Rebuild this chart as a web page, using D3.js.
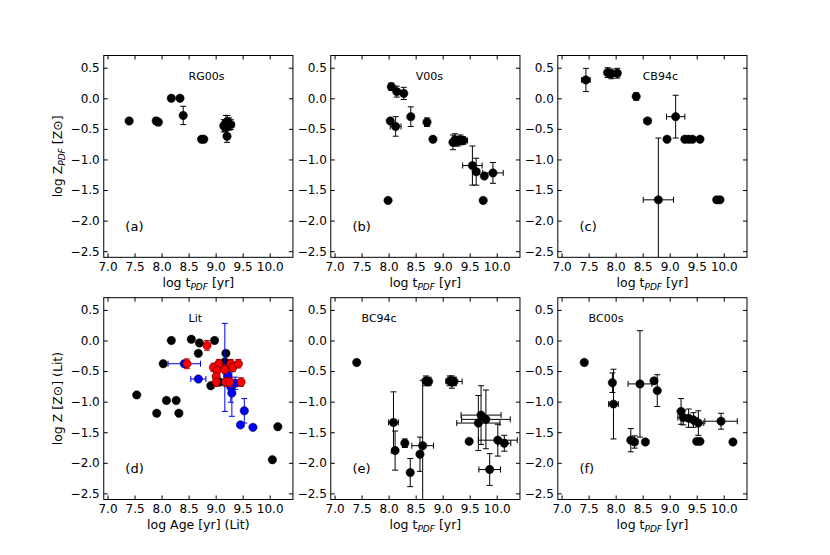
<!DOCTYPE html>
<html>
<head>
<meta charset="utf-8">
<script src="https://cdn.jsdelivr.net/npm/d3@7"></script>
<style>
  html, body { margin: 0; padding: 0; background: #fff; }
  svg { display: block; }
  text { font-family: "DejaVu Sans", sans-serif; }
</style>
</head>
<body>
<svg id="chart" width="830" height="555"></svg>
<script>
// ---------------- data ----------------
const xTickValues = [7.0, 7.5, 8.0, 8.5, 9.0, 9.5, 10.0];
const xTickLabels = ["7.0", "7.5", "8.0", "8.5", "9.0", "9.5", "10.0"];
const yTickValues = [0.5, 0.0, -0.5, -1.0, -1.5, -2.0, -2.5];
const yTickLabels = ["0.5", "0.0", "\u22120.5", "\u22121.0", "\u22121.5", "\u22122.0", "\u22122.5"];

const panelNames = ["RG00s", "V00s", "CB94c", "Lit", "BC94c", "BC00s"];
const panelLetters = ["(a)", "(b)", "(c)", "(d)", "(e)", "(f)"];

// (a) RG00s
const rgLogT  = [7.40, 7.90, 7.94, 8.18, 8.34, 8.40, 8.74, 8.78, 9.15, 9.19, 9.22, 9.25, 9.28, 9.21, 9.18];
const rgLogZ  = [-0.37, -0.37, -0.39, 0.00, 0.00, -0.28, -0.67, -0.67, -0.45, -0.40, -0.38, -0.42, -0.43, -0.62, -0.48];
const rgErrZ  = [0, 0.05, 0.05, 0, 0, 0.15, 0, 0, 0.10, 0.12, 0.10, 0.10, 0.08, 0.10, 0.06];
const rgErrT  = [0, 0, 0, 0, 0, 0, 0, 0, 0.05, 0, 0.05, 0, 0.06, 0, 0];

// (b) V00s
const vLogT = [8.05, 8.15, 8.28, 8.03, 8.13, 8.41, 8.71, 8.82, 7.99, 9.19, 9.23, 9.28, 9.33, 9.38, 9.55, 9.62, 9.77, 9.93, 9.75];
const vLogZ = [0.19, 0.11, 0.08, -0.37, -0.46, -0.30, -0.39, -0.67, -1.67, -0.72, -0.68, -0.70, -0.68, -0.69, -1.10, -1.20, -1.27, -1.22, -1.67];
const vErrZ = [0.06, 0.09, 0.10, 0, 0.16, 0.16, 0.07, 0, 0, 0.12, 0.10, 0.08, 0.08, 0.06, 0.32, 0.22, 0, 0.17, 0];
const vErrT = [0.04, 0.04, 0.04, 0, 0.10, 0, 0, 0, 0, 0.05, 0.06, 0.05, 0.08, 0.08, 0.18, 0.06, 0, 0.19, 0];

// (c) CB94c
const cbLogT = [7.45, 7.85, 7.92, 8.03, 8.38, 8.59, 8.95, 9.11, 8.79, 9.28, 9.35, 9.42, 9.56, 9.87, 9.93];
const cbLogZ = [0.30, 0.42, 0.40, 0.41, 0.03, -0.37, -0.67, -0.30, -1.66, -0.67, -0.67, -0.67, -0.67, -1.66, -1.66];
const cbErrZ = [0.19, 0.08, 0.08, 0.08, 0.06, 0, 0, 0.35, 1.01, 0, 0, 0, 0, 0.03, 0];
const cbErrT = [0.08, 0.04, 0, 0.05, 0, 0.06, 0, 0.17, 0.28, 0, 0, 0, 0.04, 0.05, 0];

// (d) Lit: black, blue, red groups
const litBlackAge = [7.54, 7.91, 8.09, 8.27, 8.32, 8.03, 8.18, 8.55, 8.70, 8.68, 8.98, 8.91, 9.19, 9.17, 9.08, 10.15, 10.05];
const litBlackZ   = [-0.89, -1.19, -0.98, -0.98, -1.19, -0.38, 0.00, 0.02, -0.04, -0.21, 0.00, -0.74, -0.21, -0.35, -0.68, -1.41, -1.95];
const litBlueAge  = [8.42, 8.68, 9.17, 9.22, 9.28, 9.30, 9.36, 9.53, 9.46, 9.69];
const litBlueZ    = [-0.38, -0.63, -0.44, -0.58, -0.76, -0.86, -0.70, -1.15, -1.38, -1.42];
const litBlueErrZ = [0, 0, 0.72, 0.10, 0.25, 0.38, 0.10, 0.20, 0, 0];
const litBlueErrT = [0.30, 0.14, 0, 0.05, 0, 0, 0.06, 0, 0, 0];
const litRedAge   = [8.84, 8.47, 8.96, 9.06, 9.03, 9.01, 9.01, 9.17, 9.19, 9.28, 9.32, 9.26, 9.42, 9.47];
const litRedZ     = [-0.08, -0.38, -0.44, -0.38, -0.49, -0.59, -0.68, -0.47, -0.68, -0.38, -0.44, -0.68, -0.38, -0.68];
const litRedErrZ  = [0.08, 0.08, 0.07, 0.07, 0.07, 0.07, 0.07, 0.07, 0.07, 0.07, 0.07, 0.07, 0.07, 0.07];

// (e) BC94c
const bc94LogT = [7.41, 8.09, 8.12, 8.30, 8.40, 8.58, 8.63, 8.69, 8.74, 9.13, 9.17, 9.21, 9.49, 9.66, 9.71, 9.80, 10.02, 10.14, 9.87];
const bc94LogZ = [-0.36, -1.34, -1.80, -1.68, -2.16, -1.86, -1.72, -0.66, -0.67, -0.66, -0.68, -0.67, -1.65, -1.35, -1.22, -1.29, -1.63, -1.68, -2.11];
const bc94ErrZ = [0, 0.50, 0.32, 0.07, 0.23, 0.28, 1.07, 0.08, 0.07, 0.08, 0.10, 0.07, 0, 0.45, 0.48, 0.48, 0.26, 0.13, 0.26];
const bc94ErrT = [0, 0.09, 0.04, 0, 0, 0, 0.20, 0.04, 0, 0, 0, 0.15, 0, 0.40, 0.37, 0.45, 0.36, 0.12, 0.20];

// (f) BC00s
const bc00LogT = [7.42, 7.94, 7.96, 8.45, 8.28, 8.35, 8.55, 8.71, 8.77, 9.21, 9.25, 9.35, 9.44, 9.53, 9.50, 9.56, 9.95, 10.17];
const bc00LogZ = [-0.36, -0.69, -1.04, -0.71, -1.63, -1.66, -1.66, -0.66, -0.82, -1.16, -1.26, -1.27, -1.30, -1.35, -1.65, -1.65, -1.32, -1.66];
const bc00ErrZ = [0, 0.16, 0.57, 0.87, 0.19, 0.10, 0, 0, 0.26, 0.21, 0.12, 0.15, 0.12, 0.20, 0.04, 0, 0.13, 0];
const bc00ErrT = [0, 0, 0.09, 0.22, 0, 0.05, 0, 0, 0, 0, 0.10, 0.10, 0.08, 0.10, 0, 0, 0.30, 0];

// ---------------- layout ----------------
const W = 830, H = 555;
const figL = 0.125 * W, figR = 0.9 * W, figT = 0.1 * H, figB = 0.9 * H;
const pw = (figR - figL) / (3 + 2 * 0.2);
const ph = (figB - figT) / (2 + 0.2);
const xDomain = [6.93, 10.43];
const yDomain = [-2.6, 0.7];

function group(x, y, ex, ey, color) {
  return x.map((v, i) => ({x: v, y: y[i], ex: ex ? ex[i] : 0, ey: ey ? ey[i] : 0, color}));
}

const panels = [
  {sets: [group(rgLogT, rgLogZ, rgErrT, rgErrZ, "black")], xl: "t", yl: "pdf"},
  {sets: [group(vLogT, vLogZ, vErrT, vErrZ, "black")], xl: "t"},
  {sets: [group(cbLogT, cbLogZ, cbErrT, cbErrZ, "black")], xl: "t"},
  {sets: [group(litBlackAge, litBlackZ, null, null, "black"),
          group(litBlueAge, litBlueZ, litBlueErrT, litBlueErrZ, "#0000ff"),
          group(litRedAge, litRedZ, null, litRedErrZ, "#ff0000")], xl: "lit", yl: "lit"},
  {sets: [group(bc94LogT, bc94LogZ, bc94ErrT, bc94ErrZ, "black")], xl: "t"},
  {sets: [group(bc00LogT, bc00LogZ, bc00ErrT, bc00ErrZ, "black")], xl: "t"},
];

const svg = d3.select("#chart");
svg.append("rect").attr("width", W).attr("height", H).attr("fill", "#fff");
const defs = svg.append("defs");

panels.forEach((p, idx) => {
  const col = idx % 3, row = Math.floor(idx / 3);
  const left = figL + col * pw * 1.2;
  const top = figT + row * ph * 1.2;
  const x = d3.scaleLinear().domain(xDomain).range([0, pw]);
  const y = d3.scaleLinear().domain(yDomain).range([ph, 0]);
  const g = svg.append("g").attr("transform", `translate(${left},${top})`);

  defs.append("clipPath").attr("id", "clip" + idx)
    .append("rect").attr("width", pw).attr("height", ph);

  // axes with inward ticks
  const fmtX = d => xTickLabels[xTickValues.indexOf(d)];
  const fmtY = d => yTickLabels[yTickValues.indexOf(d)];
  const ax = [
    g.append("g").attr("transform", `translate(0,${ph})`)
      .call(d3.axisBottom(x).tickValues(xTickValues).tickFormat(fmtX).tickSizeInner(-4).tickSizeOuter(0).tickPadding(5)),
    g.append("g")
      .call(d3.axisTop(x).tickValues(xTickValues).tickFormat("").tickSizeInner(-4).tickSizeOuter(0)),
    g.append("g")
      .call(d3.axisLeft(y).tickValues(yTickValues).tickFormat(fmtY).tickSizeInner(-4).tickSizeOuter(0).tickPadding(4)),
    g.append("g").attr("transform", `translate(${pw},0)`)
      .call(d3.axisRight(y).tickValues(yTickValues).tickFormat("").tickSizeInner(-4).tickSizeOuter(0)),
  ];
  ax.forEach(a => {
    a.select(".domain").remove();
    a.selectAll("text").attr("font-size", 12).attr("fill", "#000").attr("font-family", "DejaVu Sans, sans-serif");
    a.selectAll("line").attr("stroke", "#000");
  });

  const plot = g.append("g").attr("clip-path", `url(#clip${idx})`);

  p.sets.forEach(set => {
    const eg = plot.append("g").attr("stroke", set.length ? set[0].color : "#000").attr("stroke-width", 1).attr("fill", "none");
    const cap = 3;
    set.filter(d => d.ey > 0).forEach(d => {
      const y1 = y(d.y + d.ey), y2 = y(d.y - d.ey), cx = x(d.x);
      eg.append("line").attr("x1", cx).attr("x2", cx).attr("y1", y1).attr("y2", y2);
      eg.append("line").attr("x1", cx - cap).attr("x2", cx + cap).attr("y1", y1).attr("y2", y1);
      eg.append("line").attr("x1", cx - cap).attr("x2", cx + cap).attr("y1", y2).attr("y2", y2);
    });
    set.filter(d => d.ex > 0).forEach(d => {
      const x1 = x(d.x - d.ex), x2 = x(d.x + d.ex), cy = y(d.y);
      eg.append("line").attr("x1", x1).attr("x2", x2).attr("y1", cy).attr("y2", cy);
      eg.append("line").attr("x1", x1).attr("x2", x1).attr("y1", cy - cap).attr("y2", cy + cap);
      eg.append("line").attr("x1", x2).attr("x2", x2).attr("y1", cy - cap).attr("y2", cy + cap);
    });
    plot.append("g").selectAll("circle").data(set).join("circle")
      .attr("cx", d => x(d.x)).attr("cy", d => y(d.y)).attr("r", 4.2)
      .attr("fill", d => d.color)
      .attr("stroke", "#000").attr("stroke-width", 0.5);
  });

  // frame
  g.append("rect").attr("width", pw).attr("height", ph)
    .attr("fill", "none").attr("stroke", "#000").attr("stroke-width", 1);

  // panel name and letter
  const nameX = row === 0 ? 8.5 : (idx === 3 ? 8.5 : 7.5);
  g.append("text").attr("x", x(nameX)).attr("y", y(0.37)).attr("dy", "0.35em")
    .attr("font-size", 11).text(panelNames[idx]);
  g.append("text").attr("x", x(7.33)).attr("y", y(-2.1)).attr("dy", "0.35em")
    .attr("font-size", 13).text(panelLetters[idx]);

  // x label
  const xl = g.append("text").attr("x", pw / 2).attr("y", ph + 30)
    .attr("text-anchor", "middle").attr("font-size", 12.5);
  if (p.xl === "lit") {
    xl.text("log Age [yr] (Lit)");
  } else {
    xl.append("tspan").text("log t");
    xl.append("tspan").attr("dy", 3).attr("font-size", 9).attr("font-style", "italic").text("PDF");
    xl.append("tspan").attr("dy", -3).text(" [yr]");
  }

  // y label
  if (p.yl) {
    const yl = g.append("text").attr("transform", `translate(${62 - left},${ph / 2}) rotate(-90)`)
      .attr("text-anchor", "middle").attr("font-size", 12.5);
    if (p.yl === "lit") {
      yl.text("log Z [Z\u2299] (Lit)");
    } else {
      yl.append("tspan").text("log Z");
      yl.append("tspan").attr("dy", 3).attr("font-size", 9).attr("font-style", "italic").text("PDF");
      yl.append("tspan").attr("dy", -3).text(" [Z\u2299]");
    }
  }
});
</script>
</body>
</html>
